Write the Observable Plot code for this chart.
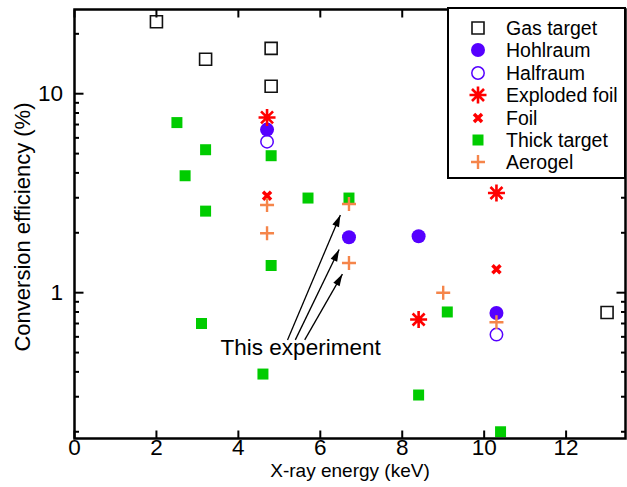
<!DOCTYPE html>
<html>
<head>
<meta charset="utf-8">
<script src="https://cdn.jsdelivr.net/npm/d3@7"></script>
<script src="https://cdn.jsdelivr.net/npm/@observablehq/plot@0.6"></script>
<style>
  html, body { margin: 0; padding: 0; background: #fff; }
  #wrap { position: relative; width: 627px; height: 487px; overflow: hidden; font-family: "Liberation Sans", Arial, sans-serif; }
  #legend { position: absolute; left: 447px; top: 7px; width: 179px; height: 172px; box-sizing: border-box;
            border: 2.5px solid #000; background: #fff; }
  .row { position: absolute; left: 0; height: 22px; width: 100%; }
  .row svg { position: absolute; left: 18px; top: 0; }
  .row span { position: absolute; left: 57px; top: 0; line-height: 22px; font-size: 19.5px; color: #000; white-space: nowrap; }
</style>
</head>
<body>
<div id="wrap"><div id="legend"></div></div>
<script>
// ---------- data ----------
const seriesNames = ["Gas target", "Hohlraum", "Halfraum", "Exploded foil", "Foil", "Thick target", "Aerogel"];

const gasX = [2.0, 3.2, 4.8, 4.8, 13.0];
const gasY = [23.0, 14.9, 16.9, 10.9, 0.795];

const hohlX = [4.7, 6.7, 8.4, 10.3];
const hohlY = [6.6, 1.9, 1.92, 0.79];

const halfX = [4.7, 10.3];
const halfY = [5.74, 0.616];

const explX = [4.7, 8.4, 10.3];
const explY = [7.6, 0.733, 3.17];

const foilX = [4.7, 10.3];
const foilY = [3.07, 1.31];

const thickX = [2.5, 3.2, 2.7, 3.2, 3.1, 4.8, 4.8, 4.6, 5.7, 6.7, 9.1, 8.4, 10.4];
const thickY = [7.16, 5.23, 3.87, 2.57, 0.70, 4.88, 1.37, 0.39, 2.99, 2.99, 0.80, 0.306, 0.20];

const aeroX = [4.7, 4.7, 6.7, 6.7, 9.0, 10.3];
const aeroY = [2.76, 1.99, 2.79, 1.41, 1.0, 0.71];

// annotation
const noteText = "This experiment";
const noteX = [5.52];
const noteY = [0.53];
const arrowX1 = [5.20, 5.39, 5.62];
const arrowY1 = [0.579, 0.579, 0.579];
const arrowX2 = [6.49, 6.46, 6.54];
const arrowY2 = [2.46, 1.65, 1.24];

// axes
const xTicks = [0, 2, 4, 6, 8, 10, 12];
const yTickLabels = [1, 10];
const yMinor = [0.2, 0.3, 0.4, 0.5, 0.6, 0.7, 0.8, 0.9, 2, 3, 4, 5, 6, 7, 8, 9, 20];
const xLabel = "X-ray energy (keV)";
const yLabel = "Conversion efficiency (%)";

// ---------- symbols ----------
function sym(fn) { return { draw(c, size) { fn(c, Math.sqrt(size / Math.PI)); } }; }
const symSquare = sym((c, L) => { c.moveTo(-L, -L); c.lineTo(L, -L); c.lineTo(L, L); c.lineTo(-L, L); c.closePath(); });
const symCircle = sym((c, L) => { c.moveTo(L, 0); c.arc(0, 0, L, 0, 2 * Math.PI); });
const symAst = sym((c, L) => { for (const a of [0, 45, 90, 135]) { const t = a * Math.PI / 180, dx = L * Math.cos(t), dy = L * Math.sin(t); c.moveTo(-dx, -dy); c.lineTo(dx, dy); } });
const symTimes = sym((c, L) => { c.moveTo(-L, -L); c.lineTo(L, L); c.moveTo(-L, L); c.lineTo(L, -L); });
const symPlus = sym((c, L) => { c.moveTo(-L, 0); c.lineTo(L, 0); c.moveTo(0, -L); c.lineTo(0, L); });
const tickUp = sym((c, L) => { c.moveTo(0, 0); c.lineTo(0, -L); });
const tickDown = sym((c, L) => { c.moveTo(0, 0); c.lineTo(0, L); });
const tickRight = sym((c, L) => { c.moveTo(0, 0); c.lineTo(L, 0); });
const tickLeft = sym((c, L) => { c.moveTo(0, 0); c.lineTo(-L, 0); });

const PURPLE = "#5500ff", RED = "#ff0000", GREEN = "#00cc00", ORANGE = "#f5854a";

const styles = [
  { symbol: symSquare, r: 6, fill: "none", stroke: "#111", strokeWidth: 1.6 },
  { symbol: symCircle, r: 7, fill: PURPLE, stroke: "none" },
  { symbol: symCircle, r: 6.2, fill: "none", stroke: PURPLE, strokeWidth: 1.5 },
  { symbol: symAst, r: 8.5, fill: "none", stroke: RED, strokeWidth: 2.6 },
  { symbol: symTimes, r: 4, fill: "none", stroke: RED, strokeWidth: 3.5 },
  { symbol: symSquare, r: 5.5, fill: GREEN, stroke: "none" },
  { symbol: symPlus, r: 7, fill: "none", stroke: ORANGE, strokeWidth: 2.4 }
];
const seriesX = [gasX, hohlX, halfX, explX, foilX, thickX, aeroX];
const seriesY = [gasY, hohlY, halfY, explY, foilY, thickY, aeroY];

const pts = (xs, ys) => xs.map((x, i) => ({ x, y: ys[i] }));
const arrows = arrowX1.map((x1, i) => ({ x1, y1: arrowY1[i], x2: arrowX2[i], y2: arrowY2[i] }));

const FONT = "Liberation Sans, Arial, sans-serif";

const chart = Plot.plot({
  width: 627, height: 487,
  marginLeft: 74, marginRight: 2, marginTop: 9, marginBottom: 49,
  style: { fontFamily: FONT, fontSize: "22.5px", color: "black", background: "white", overflow: "visible" },
  x: { domain: [0, 13.45], axis: null },
  y: { type: "log", domain: [0.185, 26.5], axis: null },
  marks: [
    // ticks (inward) on all four sides
    Plot.dot(xTicks, { x: d => d, frameAnchor: "bottom", symbol: tickUp, r: 8, stroke: "black", strokeWidth: 2 }),
    Plot.dot(xTicks, { x: d => d, frameAnchor: "top", symbol: tickDown, r: 8, stroke: "black", strokeWidth: 2 }),
    Plot.dot(yTickLabels, { y: d => d, frameAnchor: "left", symbol: tickRight, r: 9, stroke: "black", strokeWidth: 2 }),
    Plot.dot(yTickLabels, { y: d => d, frameAnchor: "right", symbol: tickLeft, r: 9, stroke: "black", strokeWidth: 2 }),
    Plot.dot(yMinor, { y: d => d, frameAnchor: "left", symbol: tickRight, r: 4.5, stroke: "black", strokeWidth: 2 }),
    Plot.dot(yMinor, { y: d => d, frameAnchor: "right", symbol: tickLeft, r: 4.5, stroke: "black", strokeWidth: 2 }),
    // tick labels
    Plot.text(xTicks, { x: d => d, text: d => String(d), frameAnchor: "bottom", dy: 16, fontSize: 22.5 }),
    Plot.text(yTickLabels, { y: d => d, text: d => String(d), frameAnchor: "left", dx: -11.5, textAnchor: "end", fontSize: 22.5 }),
    // axis titles
    Plot.text([xLabel], { text: d => d, frameAnchor: "bottom", textAnchor: "middle", dy: 38, fontSize: 19 }),
    Plot.text([yLabel], { text: d => d, frameAnchor: "left", textAnchor: "middle", dx: -52, dy: 3, rotate: -90, fontSize: 22 }),
    // annotation
    Plot.link(arrows, { x1: "x1", y1: "y1", x2: "x2", y2: "y2", stroke: "black", strokeWidth: 1.3, markerEnd: "arrow" }),
    Plot.text(noteX, { x: d => d, y: (d, i) => noteY[i], text: () => noteText, fontSize: 22.5 }),
    // data
    ...seriesX.map((xs, k) => Plot.dot(pts(xs, seriesY[k]), { x: "x", y: "y", ...styles[k] })),
    Plot.frame({ stroke: "black", strokeWidth: 2.5 })
  ]
});

// filled arrowheads
chart.querySelectorAll("marker").forEach(m => {
  m.setAttribute("viewBox", "-13 -5 14 10");
  m.setAttribute("markerWidth", "14");
  m.setAttribute("markerHeight", "10");
  m.setAttribute("markerUnits", "userSpaceOnUse");
  m.setAttribute("refX", "0");
  m.setAttribute("refY", "0");
  m.setAttribute("orient", "auto");
  m.querySelectorAll("path").forEach(p => {
    p.setAttribute("d", "M-12,-3.6L0,0L-12,3.6Z");
    p.setAttribute("fill", "black");
    p.setAttribute("stroke", "none");
  });
});

const wrap = document.getElementById("wrap");
wrap.insertBefore(chart, wrap.firstChild);

// legend
const legend = document.getElementById("legend");
seriesNames.forEach((name, k) => {
  const st = styles[k];
  const row = document.createElement("div");
  row.className = "row";
  row.style.top = (8 + k * 22.4) + "px";
  const p = d3.path();
  st.symbol.draw(p, Math.PI * st.r * st.r);
  const svgNS = "http://www.w3.org/2000/svg";
  const s = document.createElementNS(svgNS, "svg");
  s.setAttribute("width", 22); s.setAttribute("height", 22);
  const path = document.createElementNS(svgNS, "path");
  path.setAttribute("d", p.toString());
  path.setAttribute("transform", "translate(11,11)");
  path.setAttribute("fill", st.fill || "none");
  path.setAttribute("stroke", st.stroke || "none");
  if (st.strokeWidth) path.setAttribute("stroke-width", st.strokeWidth);
  s.appendChild(path);
  const t = document.createElement("span");
  t.textContent = name;
  row.appendChild(s); row.appendChild(t);
  legend.appendChild(row);
});
</script>
</body>
</html>
